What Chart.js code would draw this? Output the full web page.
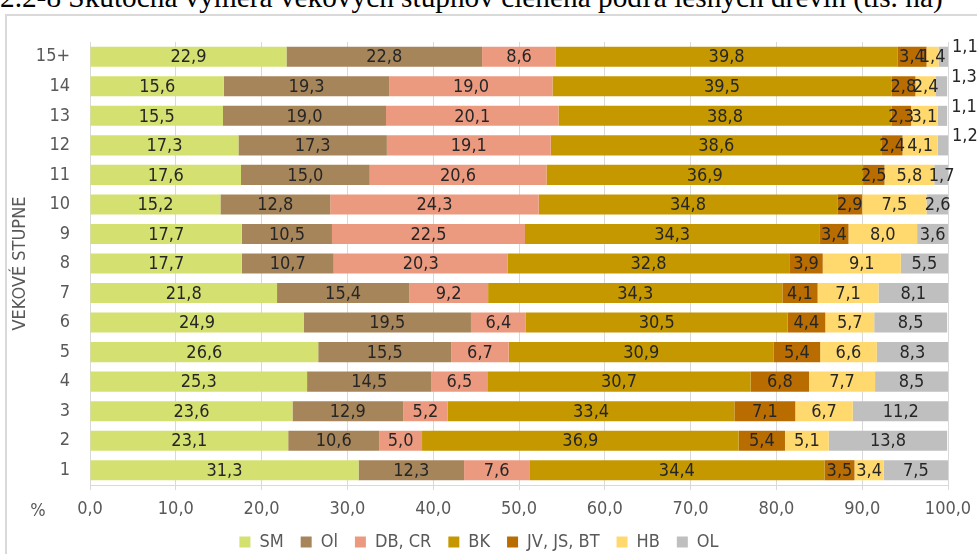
<!DOCTYPE html>
<html lang="sk">
<head>
<meta charset="UTF-8">
<title>Skutočná výmera vekových stupňov</title>
<style>
  body { margin: 0; background: #fff; overflow: hidden; }
  #nadpis {
    position: absolute; left: 0; top: -19px; white-space: nowrap;
    font-family: "Liberation Serif", "DejaVu Serif", serif; font-size: 29.3px; color: #000;
  }
  #ramik {
    position: absolute; left: 5px; top: 14px; width: 1000px; height: 600px;
    border: 2px solid #d9d9d9; box-sizing: border-box;
  }
  #obal { position: absolute; left: 0; top: 0; width: 977px; height: 554px; }
</style>
</head>
<body>
<div id="nadpis">2.2-8 Skutočná výmera vekových stupňov členená podľa lesných drevín (tis. ha)</div>
<div id="ramik"></div>
<div id="obal"><canvas id="graf"></canvas></div>

<script src="https://cdn.jsdelivr.net/npm/chart.js"></script>
<script>
// vekové stupne (zdola nahor)
const stupne = ['1', '2', '3', '4', '5', '6', '7', '8', '9', '10', '11', '12', '13', '14', '15+'];

// podiel drevín v % pre každý stupeň
const SM   = [31.3, 23.1, 23.6, 25.3, 26.6, 24.9, 21.8, 17.7, 17.7, 15.2, 17.6, 17.3, 15.5, 15.6, 22.9];
const Ol   = [12.3, 10.6, 12.9, 14.5, 15.5, 19.5, 15.4, 10.7, 10.5, 12.8, 15.0, 17.3, 19.0, 19.3, 22.8];
const DBCR = [7.6, 5.0, 5.2, 6.5, 6.7, 6.4, 9.2, 20.3, 22.5, 24.3, 20.6, 19.1, 20.1, 19.0, 8.6];
const BK   = [34.4, 36.9, 33.4, 30.7, 30.9, 30.5, 34.3, 32.8, 34.3, 34.8, 36.9, 38.6, 38.8, 39.5, 39.8];
const JV   = [3.5, 5.4, 7.1, 6.8, 5.4, 4.4, 4.1, 3.9, 3.4, 2.9, 2.5, 2.4, 2.3, 2.8, 3.4];
const HB   = [3.4, 5.1, 6.7, 7.7, 6.6, 5.7, 7.1, 9.1, 8.0, 7.5, 5.8, 4.1, 3.1, 2.4, 1.4];
const OL   = [7.5, 13.8, 11.2, 8.5, 8.3, 8.5, 8.1, 5.5, 3.6, 2.6, 1.7, 1.2, 1.1, 1.3, 1.1];

const nazvy = ['SM', 'Ol', 'DB, CR', 'BK', 'JV, JS, BT', 'HB', 'OL'];
const farby = ['#d4e06f', '#a7855a', '#ec9a7f', '#c59800', '#b96d00', '#ffd96e', '#bfbfbf'];
const hodnoty = [SM, Ol, DBCR, BK, JV, HB, OL];

const pismo = '"Liberation Sans Narrow", "DejaVu Sans Condensed", sans-serif';
const ciarka = v => v.toFixed(1).replace('.', ',');

// popisky hodnôt v stĺpcoch
const popisky = {
  id: 'popisky',
  afterDatasetsDraw(chart) {
    const ctx = chart.ctx;
    ctx.save();
    ctx.font = '18px ' + pismo;
    ctx.fillStyle = '#262626';
    ctx.textBaseline = 'middle';
    chart.data.datasets.forEach((ds, i) => {
      chart.getDatasetMeta(i).data.forEach((bar, j) => {
        const v = ds.data[j];
        if (i === 6 && v < 1.5) {
          ctx.textAlign = 'left';
          ctx.fillText(ciarka(v), bar.x + 4, bar.y - 9);
        } else {
          ctx.textAlign = 'center';
          ctx.fillText(ciarka(v), (bar.x + bar.base) / 2, bar.y + 1);
        }
      });
    });
    // znak % vľavo od osi
    ctx.fillStyle = '#595959';
    ctx.textAlign = 'center';
    ctx.fillText('%', 38, chart.scales.x.top + 26);
    ctx.restore();
  }
};

new Chart(document.getElementById('graf'), {
  type: 'bar',
  data: {
    labels: stupne,
    datasets: hodnoty.map((d, i) => ({
      label: nazvy[i],
      data: d,
      backgroundColor: farby[i],
      barPercentage: 0.68,
      categoryPercentage: 1
    }))
  },
  options: {
    indexAxis: 'y',
    responsive: true,
    maintainAspectRatio: false,
    animation: false,
    layout: { padding: { left: 10, right: 29, top: 42, bottom: -7 } },
    plugins: {
      tooltip: { enabled: false },
      legend: {
        position: 'bottom',
        labels: {
          font: { family: pismo, size: 18 },
          color: '#595959',
          boxWidth: 11, boxHeight: 11,
          padding: 17
        }
      }
    },
    scales: {
      x: {
        stacked: true, min: 0, max: 100,
        grid: { color: '#d9d9d9', tickLength: 5, drawTicks: true },
        border: { color: '#d9d9d9' },
        ticks: {
          stepSize: 10, padding: 9, color: '#595959',
          font: { family: pismo, size: 18 },
          callback: v => ciarka(v)
        },
        afterFit: s => { s.height = 31; s.paddingRight = 0; s.paddingLeft = 0; }
      },
      y: {
        stacked: true, reverse: true,
        grid: { display: false },
        border: { color: '#d9d9d9' },
        ticks: { color: '#595959', padding: 12, font: { family: pismo, size: 18 } },
        title: {
          display: true, text: 'VEKOVÉ STUPNE', color: '#595959',
          font: { family: pismo, size: 18 }, padding: 0
        },
        afterFit: s => { s.width = 80; }
      }
    }
  },
  plugins: [popisky]
});
</script>
</body>
</html>
